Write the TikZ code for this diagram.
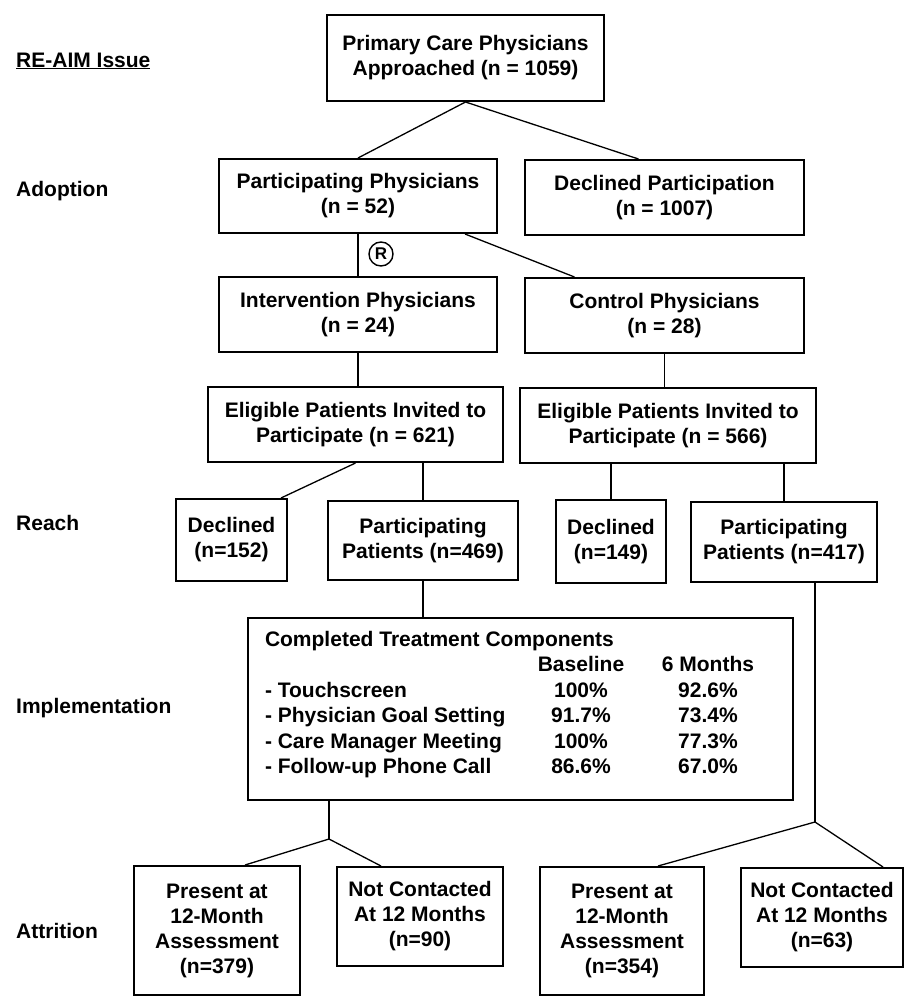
\documentclass[tikz,border=0pt]{standalone}
\usepackage{fontspec}
\setmainfont{Liberation Sans}
\usepackage{array}
\usepackage{tikz}
\tikzstyle{box}=[fill=white, draw=black, line width=2pt, shape=rectangle, align=center, inner sep=0pt, font=\bfseries\fontsize{21}{25}\selectfont]
\tikzstyle{issue}=[anchor=base west, inner sep=0pt, font=\bfseries\fontsize{21}{25}\selectfont]
\tikzstyle{rand}=[fill=white, draw=black, line width=1.4pt, shape=circle, inner sep=0pt, minimum size=24pt, font=\bfseries\fontsize{17}{17}\selectfont]
\tikzstyle{plain edge}=[-, draw=black, line width=1.3pt]
\pgfdeclarelayer{nodelayer}
\pgfdeclarelayer{edgelayer}
\pgfsetlayers{edgelayer,nodelayer,main}
\begin{document}
\begin{tikzpicture}[x=1pt, y=-1pt]
	\useasboundingbox (0, 0) rectangle (905, 996);
	\begin{pgfonlayer}{nodelayer}
		\node [style=box, minimum width=277pt, minimum height=86pt] (0) at (465.5, 58) {Primary Care Physicians\\Approached (n = 1059)};
		\node [style=box, minimum width=278pt, minimum height=74pt] (1) at (358, 196) {Participating Physicians\\(n = 52)};
		\node [style=box, minimum width=279pt, minimum height=75pt] (2) at (664.5, 197.5) {Declined Participation\\(n = 1007)};
		\node [style=box, minimum width=278pt, minimum height=75pt] (3) at (358, 314.5) {Intervention Physicians\\(n = 24)};
		\node [style=box, minimum width=279pt, minimum height=75pt] (4) at (664.5, 315.5) {Control Physicians\\(n = 28)};
		\node [style=box, minimum width=295pt, minimum height=75pt] (5) at (355.5, 424.5) {Eligible Patients Invited to\\Participate (n = 621)};
		\node [style=box, minimum width=296pt, minimum height=75pt] (6) at (668, 425.5) {Eligible Patients Invited to\\Participate (n = 566)};
		\node [style=box, minimum width=111pt, minimum height=82pt] (7) at (231.5, 540) {Declined\\(n=152)};
		\node [style=box, minimum width=190pt, minimum height=79pt] (8) at (423, 540.5) {Participating\\Patients (n=469)};
		\node [style=box, minimum width=110pt, minimum height=83pt] (9) at (611, 541.5) {Declined\\(n=149)};
		\node [style=box, minimum width=186pt, minimum height=80pt] (10) at (784, 542) {Participating\\Patients (n=417)};
		\node [style=box, inner xsep=17pt, inner ysep=3.5pt] (11) at (520.5, 709) {%
			\renewcommand{\arraystretch}{1.02}%
			\begin{tabular}{@{}p{257pt}@{}>{\centering\arraybackslash}p{118pt}@{}>{\centering\arraybackslash}p{136pt}@{}}
				\multicolumn{3}{@{}l@{}}{\rule{0pt}{25pt}Completed Treatment Components}\\
				& Baseline & 6 Months\\
				- Touchscreen & 100\% & 92.6\%\\
				- Physician Goal Setting & 91.7\% & 73.4\%\\
				- Care Manager Meeting & 100\% & 77.3\%\\
				- Follow-up Phone Call & 86.6\% & 67.0\%\\[-10pt]
				& &
			\end{tabular}};
		\node [style=box, minimum width=166pt, minimum height=129pt] (12) at (217, 930.5) {Present at\\12-Month\\Assessment\\(n=379)};
		\node [style=box, minimum width=166pt, minimum height=99pt] (13) at (420, 916.5) {Not Contacted\\At 12 Months\\(n=90)};
		\node [style=box, minimum width=164pt, minimum height=128pt] (14) at (622, 931) {Present at\\12-Month\\Assessment\\(n=354)};
		\node [style=box, minimum width=162pt, minimum height=99pt] (15) at (822, 917.5) {Not Contacted\\At 12 Months\\(n=63)};
		\node [style=rand] (16) at (381, 254) {R};
		\node [style=issue] (17) at (16, 67) {\underline{RE-AIM Issue}};
		\node [style=issue] (18) at (16, 196) {Adoption};
		\node [style=issue] (19) at (16, 530) {Reach};
		\node [style=issue] (20) at (16, 713) {Implementation};
		\node [style=issue] (21) at (16, 938) {Attrition};
		\coordinate (a) at (329, 839);
		\coordinate (b) at (815, 822);
	\end{pgfonlayer}
	\begin{pgfonlayer}{edgelayer}
		\draw [style=plain edge] (0.south) to (1.north);
		\draw [style=plain edge] (0.south) to ([xshift=-26pt]2.north);
		\draw [style=plain edge] (1.south) to (3.north);
		\draw [style=plain edge] ([xshift=107pt]1.south) to ([xshift=-90pt]4.north);
		\draw [style=plain edge] (3.south) to (3.south |- 5.north);
		\draw [style=plain edge] (4.south) to (4.south |- 6.north);
		\draw [style=plain edge] (5.south) to ([xshift=-7pt]7.north east);
		\draw [style=plain edge] (8.north |- 5.south) to (8.north);
		\draw [style=plain edge] (9.north |- 6.south) to (9.north);
		\draw [style=plain edge] (10.north |- 6.south) to (10.north);
		\draw [style=plain edge] (8.south) to (8.south |- 11.north);
		\draw [style=plain edge] (a |- 11.south) to (a);
		\draw [style=plain edge] (a) to ([xshift=28pt]12.north);
		\draw [style=plain edge] (a) to ([xshift=-39pt]13.north);
		\draw [style=plain edge] ([xshift=31pt]10.south) to (b);
		\draw [style=plain edge] (b) to ([xshift=36pt]14.north);
		\draw [style=plain edge] (b) to ([xshift=61pt]15.north);
	\end{pgfonlayer}
\end{tikzpicture}
\end{document}
